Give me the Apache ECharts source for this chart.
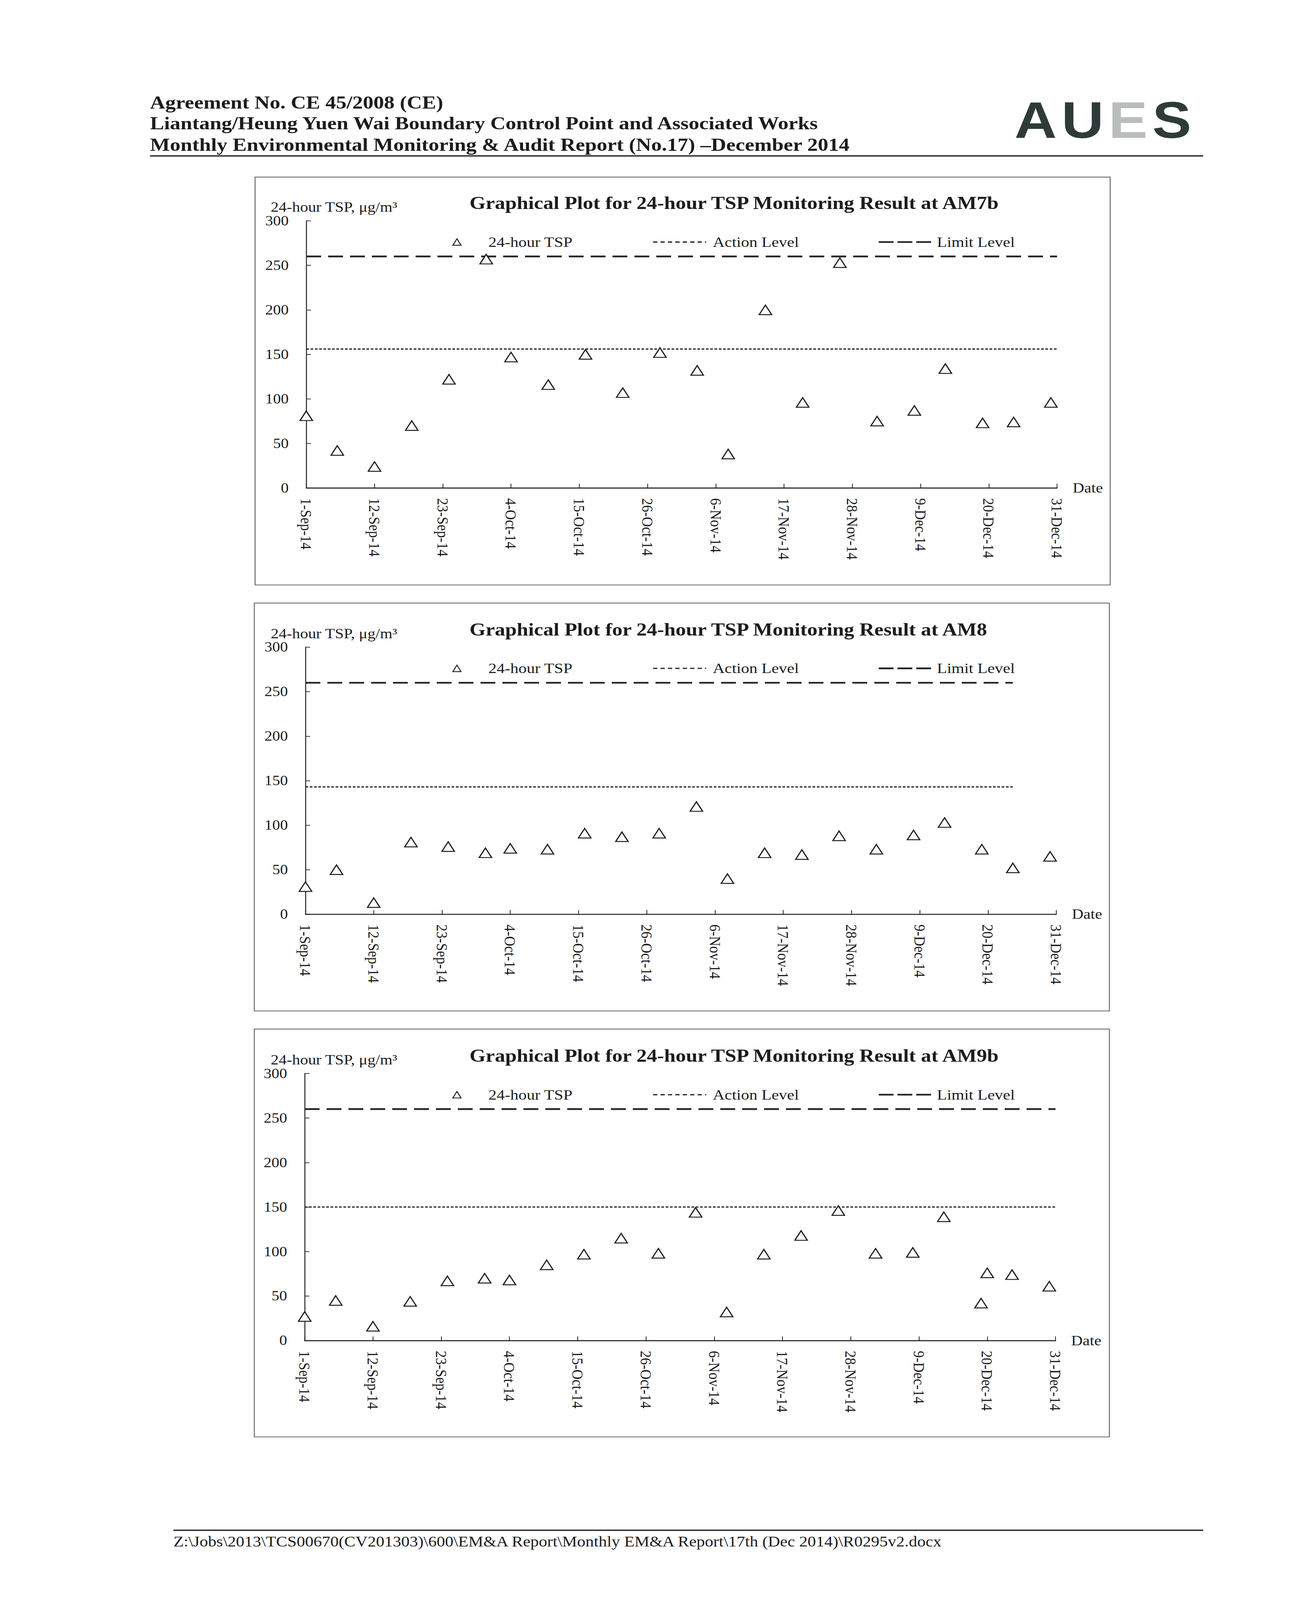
<!DOCTYPE html>
<html>
<head>
<meta charset="utf-8">
<script src="https://cdn.jsdelivr.net/npm/echarts@6/dist/echarts.min.js"></script>
<style>
  html, body { margin: 0; padding: 0; background: #fff; overflow: hidden; }
  #page { position: relative; width: 3310px; height: 4680px; background: #fff; overflow: hidden; transform-origin: 0 0; }
  #chart { position: absolute; left: 0; top: 0; width: 3310px; height: 4680px; }
  .hdr { position: absolute; left: 384px; font-family: 'Liberation Serif', 'Times New Roman', serif; font-weight: bold; font-size: 54px; line-height: 60px; color: #1c1c1c; white-space: nowrap; }
  .rule { position: absolute; background: #2a2a2a; }
  #logo { position: absolute; left: 2597px; top: 276px; font-family: 'Liberation Sans', Arial, sans-serif; font-weight: bold; font-size: 150px; line-height: 150px; letter-spacing: 12px; color: #2f3b39; white-space: nowrap; }
  #logo span { color: #b9bdbd; }
  #footer { position: absolute; left: 444px; top: 4485px; font-family: 'Liberation Serif', 'Times New Roman', serif; font-size: 43px; line-height: 48px; color: #1c1c1c; white-space: nowrap; }
</style>
</head>
<body>
<div id="page">
  <div id="chart"></div>
  <div class="hdr" style="top:270px">Agreement No. CE 45/2008 (CE)</div>
  <div class="hdr" style="top:330px">Liantang/Heung Yuen Wai Boundary Control Point and Associated Works</div>
  <div class="hdr" style="top:393px">Monthly Environmental Monitoring &amp; Audit Report (No.17) –December 2014</div>
  <div id="logo">AU<span>E</span>S</div>
  <div class="rule" style="left:384px; top:454px; width:2696px; height:4px;"></div>
  <div class="rule" style="left:444px; top:4474px; width:2636px; height:4px;"></div>
  <div id="footer">Z:\Jobs\2013\TCS00670(CV201303)\600\EM&amp;A Report\Monthly EM&amp;A Report\17th (Dec 2014)\R0295v2.docx</div>
</div>
<script>
// Fit the 3310x4680 page into the actual window height (the window may be shorter).
(function () {
  const sy = Math.min(1, (window.innerHeight || 4680) / 4680);
  if (sy < 1) document.getElementById('page').style.transform = 'scaleY(' + sy + ')';
})();

// ---------------- DATA ----------------
const tickLabels = ['1-Sep-14','12-Sep-14','23-Sep-14','4-Oct-14','15-Oct-14','26-Oct-14','6-Nov-14','17-Nov-14','28-Nov-14','9-Dec-14','20-Dec-14','31-Dec-14'];
const axisStart = '2014-09-01';
const axisEnd = '2014-12-31';
const tickStepDays = 11;

const stations = ['AM7b', 'AM8', 'AM9b'];

const datesAM7b = ['2014-09-01','2014-09-06','2014-09-12','2014-09-18','2014-09-24','2014-09-30','2014-10-04','2014-10-10','2014-10-16','2014-10-22','2014-10-28','2014-11-03','2014-11-08','2014-11-14','2014-11-20','2014-11-26','2014-12-02','2014-12-08','2014-12-13','2014-12-19','2014-12-24','2014-12-30'];
const tspAM7b = [81, 42, 24, 70, 122, 257, 147, 116, 150, 107, 152, 132, 38, 200, 96, 253, 75, 87, 134, 73, 74, 96];

const datesAM8 = ['2014-09-01','2014-09-06','2014-09-12','2014-09-18','2014-09-24','2014-09-30','2014-10-04','2014-10-10','2014-10-16','2014-10-22','2014-10-28','2014-11-03','2014-11-08','2014-11-14','2014-11-20','2014-11-26','2014-12-02','2014-12-08','2014-12-13','2014-12-19','2014-12-24','2014-12-30'];
const tspAM8 = [31, 50, 13, 81, 76, 69, 74, 73, 91, 87, 91, 121, 40, 69, 67, 88, 73, 89, 103, 73, 52, 65];

const datesAM9b = ['2014-09-01','2014-09-06','2014-09-12','2014-09-18','2014-09-24','2014-09-30','2014-10-04','2014-10-10','2014-10-16','2014-10-22','2014-10-28','2014-11-03','2014-11-08','2014-11-14','2014-11-20','2014-11-26','2014-12-02','2014-12-08','2014-12-13','2014-12-19','2014-12-20','2014-12-24','2014-12-30'];
const tspAM9b = [27, 45, 16, 44, 67, 70, 68, 85, 97, 115, 98, 144, 32, 97, 118, 146, 98, 99, 139, 42, 76, 74, 61];

const actionLevels = [156, 143, 150];
const limitLevels = [260, 260, 260];
const levelStart = ['2014-09-01', '2014-09-01', '2014-09-01'];
const levelEnd = ['2014-12-31', '2014-12-24', '2014-12-31'];

const yMin = 0, yMax = 300, yStep = 50;

// ---------------- LAYOUT ----------------
const FONT = "'Liberation Serif', 'Times New Roman', serif";
const INK = '#1c1c1c';
const grids = [ {left: 784, top: 646}, {left: 782, top: 1893}, {left: 780, top: 3140} ];
const GW = 1922, GH = 781;
const boxes = [ {x: 653, y: 518}, {x: 651, y: 1764}, {x: 651, y: 3010} ];
const BW = 2189, BH = 1193;

const dayMs = 86400000;
function dayOf(d) { return (Date.parse(d) - Date.parse(axisStart)) / dayMs; }
const xMax = dayOf(axisEnd);

const allDates = [datesAM7b, datesAM8, datesAM9b];
const allTsp = [tspAM7b, tspAM8, tspAM9b];

const option = {
  animation: false,
  backgroundColor: '#fff',
  grid: [], xAxis: [], yAxis: [], series: [], title: [], legend: [],
  graphic: []
};

stations.forEach((st, i) => {
  const g = grids[i];
  option.grid.push({ left: g.left, top: g.top, width: GW, height: GH, containLabel: false });
  option.graphic.push({
    type: 'rect', z: -1,
    shape: { x: boxes[i].x, y: boxes[i].y, width: BW, height: BH },
    style: { fill: 'none', stroke: '#6a6a6a', lineWidth: 2.5 }
  });
  option.xAxis.push({
    type: 'value', gridIndex: i, min: 0, max: xMax, interval: tickStepDays,
    name: 'Date', nameLocation: 'end', nameGap: 40,
    nameTextStyle: { fontFamily: FONT, fontSize: 41, color: INK, align: 'left', verticalAlign: 'middle', padding: [82, 0, 0, 0] },
    axisLine: { show: true, onZero: false, lineStyle: { color: '#222', width: 3 } },
    axisTick: { show: true, inside: true, length: 12, lineStyle: { color: '#222', width: 2 } },
    splitLine: { show: false },
    axisLabel: {
      rotate: -90, margin: 30, fontFamily: FONT, fontSize: 41, color: INK,
      formatter: v => tickLabels[Math.round(v / tickStepDays)] || ''
    }
  });
  option.yAxis.push({
    type: 'value', gridIndex: i, min: yMin, max: yMax, interval: yStep,
    axisLine: { show: true, lineStyle: { color: '#222', width: 2.5 } },
    axisTick: { show: true, inside: true, length: 12, lineStyle: { color: '#222', width: 2 } },
    splitLine: { show: false },
    axisLabel: { margin: 45, fontFamily: FONT, fontSize: 40, lineHeight: 36, color: INK }
  });
  option.title.push({
    text: 'Graphical Plot for 24-hour TSP Monitoring Result at ' + st,
    left: 1202, top: g.top - 82, padding: 0,
    textStyle: { fontFamily: FONT, fontWeight: 'bold', fontSize: 53, lineHeight: 60, color: INK }
  });
  option.title.push({
    text: '24-hour TSP, \u03bcg/m\u00b3',
    left: 693, top: g.top - 58, padding: 0,
    textStyle: { fontFamily: FONT, fontWeight: 'normal', fontSize: 41, lineHeight: 36, color: INK }
  });
  const legText = { fontFamily: FONT, fontSize: 42, lineHeight: 46, color: INK };
  option.legend.push({
    data: [{ name: '24-hour TSP' }], left: 1158, top: g.top + 39, padding: 0,
    itemWidth: 21, itemHeight: 19, selectedMode: false,
    itemStyle: { borderWidth: 2.5 },
    textStyle: Object.assign({ padding: [0, 0, 0, 65] }, legText)
  });
  option.legend.push({
    data: [{ name: 'Action Level' }], left: 1670, top: g.top + 39, padding: 0,
    itemWidth: 136, itemHeight: 14, selectedMode: false,
    itemStyle: { opacity: 0 },
    lineStyle: { type: [11, 8], width: 3.5, color: '#222' },
    textStyle: Object.assign({ padding: [0, 0, 0, 12] }, legText)
  });
  option.legend.push({
    data: [{ name: 'Limit Level' }], left: 2247, top: g.top + 39, padding: 0,
    itemWidth: 135, itemHeight: 14, selectedMode: false,
    itemStyle: { opacity: 0 },
    lineStyle: { type: [38, 10], width: 5, color: '#222' },
    textStyle: Object.assign({ padding: [0, 0, 0, 9] }, legText)
  });

  option.series.push({
    name: '24-hour TSP', type: 'scatter', xAxisIndex: i, yAxisIndex: i,
    symbol: 'triangle', symbolSize: [32, 28],
    itemStyle: { color: '#ffffff', borderColor: '#1e1e1e', borderWidth: 3, opacity: 1 },
    data: allDates[i].map((d, k) => [dayOf(d), allTsp[i][k]]),
    z: 5
  });
  option.series.push({
    name: 'Action Level', type: 'line', xAxisIndex: i, yAxisIndex: i,
    symbol: 'none', silent: true,
    itemStyle: { color: '#222' },
    lineStyle: { color: '#222', width: 3.5, type: [7, 4] },
    data: [[dayOf(levelStart[i]), actionLevels[i]], [dayOf(levelEnd[i]), actionLevels[i]]],
    z: 3
  });
  option.series.push({
    name: 'Limit Level', type: 'line', xAxisIndex: i, yAxisIndex: i,
    symbol: 'none', silent: true,
    itemStyle: { color: '#222' },
    lineStyle: { color: '#222', width: 5, type: [38, 18] },
    data: [[dayOf(levelStart[i]), limitLevels[i]], [dayOf(levelEnd[i]), limitLevels[i]]],
    z: 3
  });
});

const chart = echarts.init(document.getElementById('chart'), null, { renderer: 'svg', width: 3310, height: 4680 });
chart.setOption(option);
</script>
</body>
</html>
